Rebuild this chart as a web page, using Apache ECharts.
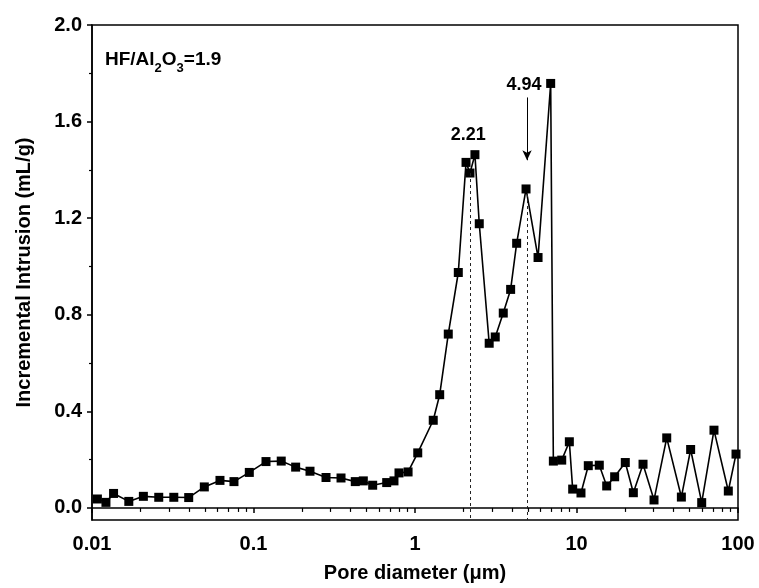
<!DOCTYPE html>
<html>
<head>
<meta charset="utf-8">
<script src="https://cdn.jsdelivr.net/npm/echarts@6/dist/echarts.min.js"></script>
<style>html,body{margin:0;padding:0;background:#fff}#c{width:759px;height:588px}</style>
</head>
<body>
<div id="c"></div>
<script>
// Pore diameter (µm)
var diameters = [0.0108,0.0122,0.0136,0.0169,0.0208,0.0259,0.0321,0.0397,0.0496,0.062,
  0.0757,0.0942,0.1195,0.1485,0.1824,0.2238,0.2812,0.3483,0.4268,0.4786,
  0.547,0.668,0.741,0.796,0.906,1.04,1.297,1.422,1.607,1.854,
  2.07,2.19,2.35,2.50,2.88,3.14,3.52,3.91,4.26,4.87,
  5.78,6.92,7.19,8.10,9.03,9.47,10.66,11.83,13.84,15.38,
  17.23,20.05,22.49,25.82,30.2,36.2,44.6,50.9,59.6,71.0,
  87.1,97.2];
// Incremental intrusion (mL/g)
var intrusion = [0.037,0.023,0.060,0.027,0.048,0.044,0.044,0.043,0.087,0.114,
  0.109,0.147,0.192,0.194,0.169,0.152,0.126,0.124,0.109,0.112,
  0.094,0.105,0.112,0.145,0.149,0.228,0.363,0.469,0.720,0.975,
  1.431,1.387,1.463,1.177,0.682,0.708,0.807,0.905,1.096,1.321,
  1.037,1.758,0.194,0.198,0.274,0.078,0.062,0.175,0.177,0.091,
  0.129,0.188,0.063,0.181,0.033,0.290,0.045,0.242,0.022,0.322,
  0.070,0.223];
var xMajorTicks = [0.01, 0.1, 1, 10, 100];
var xMinorTicks = [0.02,0.03,0.04,0.05,0.06,0.07,0.08,0.09,
  0.2,0.3,0.4,0.5,0.6,0.7,0.8,0.9,
  2,3,4,5,6,7,8,9,
  20,30,40,50,60,70,80,90];
var yMajorTicks = [0.0, 0.4, 0.8, 1.2, 1.6, 2.0];
var yMinorTicks = [0.2, 0.6, 1.0, 1.4, 1.8];
// annotations: peak positions
var peakDiam = [2.21, 4.94];
var peakLineTop = [1.387, 1.30];
var peakLabelText = ['2.21', '4.94'];
var peakLabelPos = [[2.14, 1.545], [4.73, 1.751]];
var arrowFrom = [4.94, 1.70];
var arrowTo = [4.94, 1.44];

var yMin = -0.05, yMax = 2.0;
var font = '"Liberation Sans", Arial, sans-serif';

var seriesData = diameters.map(function (d, i) { return [d, intrusion[i]]; });
var dashLines = peakDiam.map(function (d, i) {
  return [{ coord: [d, peakLineTop[i]] }, { coord: [d, yMin] }];
});
var arrowLine = [{ coord: arrowFrom, symbol: 'none' }, { coord: arrowTo, symbol: 'arrow' }];

var chart = echarts.init(document.getElementById('c'), null, { renderer: 'canvas' });
chart.setOption({
  animation: false,
  backgroundColor: '#fff',
  grid: { left: 92, right: 21, top: 25, bottom: 67, show: true, borderColor: '#000', borderWidth: 1.5, backgroundColor: 'transparent' },
  xAxis: [{
    type: 'log', logBase: 10, min: 0.01, max: 100, position: 'bottom',
    name: 'Pore diameter (μm)', nameLocation: 'middle', nameGap: 43,
    nameTextStyle: { fontFamily: font, fontWeight: 'bold', fontSize: 20, color: '#000' },
    axisLine: { show: true, lineStyle: { color: '#000', width: 1.5 } },
    axisTick: { show: true, inside: false, length: 5, lineStyle: { color: '#000', width: 1.5 }, customValues: xMajorTicks },
    axisLabel: { show: true, margin: 14, fontFamily: font, fontWeight: 'bold', fontSize: 20, color: '#000', customValues: xMajorTicks,
      formatter: function (v) { return String(+v.toPrecision(3)); } },
    splitLine: { show: false }, minorTick: { show: false }, minorSplitLine: { show: false }
  }, {
    type: 'log', logBase: 10, min: 0.01, max: 100, position: 'bottom', offset: 0,
    axisLine: { show: false },
    axisTick: { show: true, inside: false, length: 4, lineStyle: { color: '#000', width: 1.2 }, customValues: xMinorTicks },
    axisLabel: { show: false }, splitLine: { show: false }
  }],
  yAxis: [{
    type: 'value', min: yMin, max: yMax, position: 'left',
    name: 'Incremental Intrusion (mL/g)', nameLocation: 'middle', nameGap: 58, nameRotate: 90,
    nameTextStyle: { fontFamily: font, fontWeight: 'bold', fontSize: 20, color: '#000' },
    axisLine: { show: true, lineStyle: { color: '#000', width: 1.5 } },
    axisTick: { show: true, inside: false, length: 5, lineStyle: { color: '#000', width: 1.5 }, customValues: yMajorTicks },
    axisLabel: { show: true, margin: 10, fontFamily: font, fontWeight: 'bold', fontSize: 20, color: '#000', customValues: yMajorTicks,
      formatter: function (v) { return v.toFixed(1); } },
    splitLine: { show: false }
  }, {
    type: 'value', min: yMin, max: yMax, position: 'left', offset: 0,
    axisLine: { show: false },
    axisTick: { show: true, inside: false, length: 3, lineStyle: { color: '#000', width: 1.2 }, customValues: yMinorTicks },
    axisLabel: { show: false }, splitLine: { show: false }
  }],
  series: [{
    type: 'line', xAxisIndex: 0, yAxisIndex: 0,
    data: seriesData,
    symbol: 'rect', symbolSize: 9,
    itemStyle: { color: '#000' },
    lineStyle: { color: '#000', width: 1.6 },
    z: 3,
    markLine: {
      silent: true, animation: false, symbol: ['none', 'none'],
      label: { show: false },
      lineStyle: { color: '#222', width: 1, type: [3, 3] },
      data: dashLines
    }
  }, {
    type: 'line', xAxisIndex: 0, yAxisIndex: 0, data: [], silent: true,
    markLine: {
      silent: true, animation: false, symbolSize: [7, 10],
      label: { show: false },
      lineStyle: { color: '#000', width: 1, type: 'solid' },
      data: [arrowLine]
    }
  }, {
    type: 'scatter', xAxisIndex: 0, yAxisIndex: 0, silent: true,
    symbolSize: 0,
    itemStyle: { color: '#000', opacity: 0 },
    data: peakLabelPos.map(function (p, i) { return { value: p, name: peakLabelText[i] }; }),
    label: { show: true, position: 'inside', formatter: function (p) { return p.name; },
      fontFamily: font, fontWeight: 'bold', fontSize: 18, color: '#000', opacity: 1,
      textBorderWidth: 0, textBorderColor: 'transparent' }
  }],
  graphic: [{
    type: 'text', left: 105, top: 50,
    style: {
      text: '{a|HF/Al}{s|2}{a|O}{s|3}{a|=1.9}',
      rich: {
        a: { fontFamily: font, fontWeight: 'bold', fontSize: 19, fill: '#000', verticalAlign: 'bottom', lineHeight: 22 },
        s: { fontFamily: font, fontWeight: 'bold', fontSize: 13, fill: '#000', verticalAlign: 'bottom', lineHeight: 22, padding: [0, 0, -6, 0] }
      }
    }
  }]
});
</script>
</body>
</html>
